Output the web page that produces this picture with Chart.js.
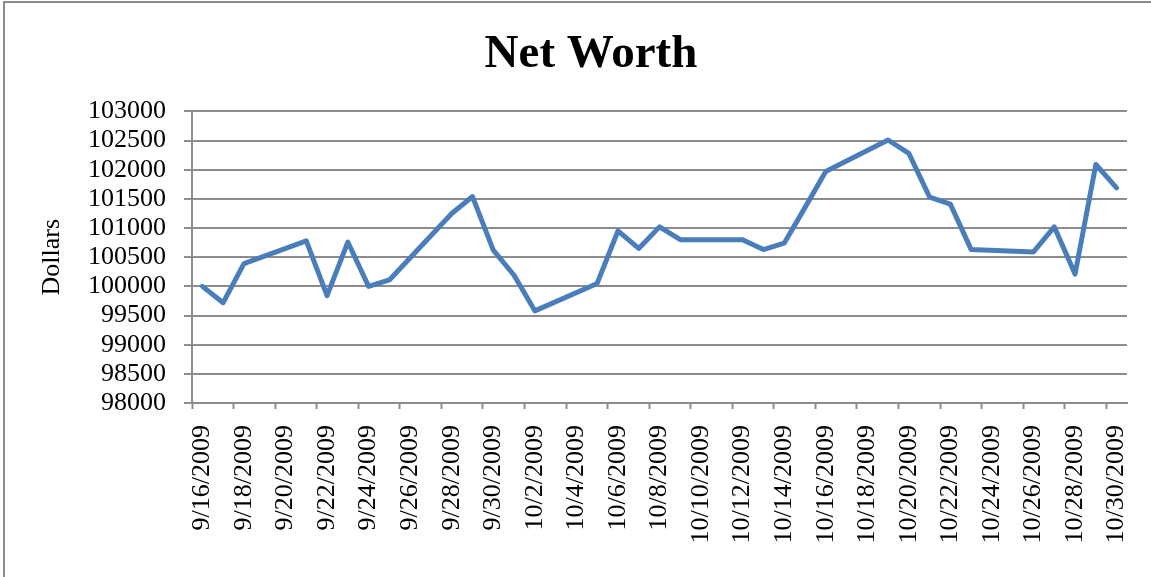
<!DOCTYPE html>
<html>
<head>
<meta charset="utf-8">
<title>Net Worth</title>
<script src="https://cdn.jsdelivr.net/npm/chart.js@4/dist/chart.umd.min.js"></script>
<style>
    body { margin: 0; overflow: hidden; background: #fff; }
    #wrap { position: relative; width: 1151px; height: 577px; overflow: hidden; }
    #frame {
        position: absolute; left: 3px; top: 1px; width: 1300px; height: 700px;
        border-left: 2px solid #8c8c8c; border-top: 2px solid #8c8c8c;
        pointer-events: none;
    }
</style>
</head>
<body>
<div id="wrap">
    <!-- the original chart frame is wider than the picture, so the canvas runs past the right edge -->
    <canvas id="netWorthChart" width="1182" height="577"></canvas>
    <div id="frame"></div>
</div>
<script>
// trading days and net worth values
const dates = [
    '9/16/2009', '9/17/2009', '9/18/2009', '9/21/2009', '9/22/2009', '9/23/2009', '9/24/2009', '9/25/2009',
    '9/28/2009', '9/29/2009', '9/30/2009', '10/1/2009', '10/2/2009',
    '10/5/2009', '10/6/2009', '10/7/2009', '10/8/2009', '10/9/2009',
    '10/12/2009', '10/13/2009', '10/14/2009', '10/15/2009', '10/16/2009',
    '10/19/2009', '10/20/2009', '10/21/2009', '10/22/2009', '10/23/2009',
    '10/26/2009', '10/27/2009', '10/28/2009', '10/29/2009', '10/30/2009'
];
const netWorth = [
    100000, 99720, 100390, 100780, 99840, 100760, 100000, 100110,
    101250, 101540, 100620, 100190, 99580,
    100050, 100950, 100650, 101020, 100800,
    100800, 100630, 100740, 101350, 101970,
    102510, 102280, 101530, 101410, 100630,
    100590, 101020, 100210, 102090, 101690
];
const tickLabels = [
    '9/16/2009', '9/18/2009', '9/20/2009', '9/22/2009', '9/24/2009', '9/26/2009', '9/28/2009', '9/30/2009',
    '10/2/2009', '10/4/2009', '10/6/2009', '10/8/2009', '10/10/2009', '10/12/2009', '10/14/2009', '10/16/2009',
    '10/18/2009', '10/20/2009', '10/22/2009', '10/24/2009', '10/26/2009', '10/28/2009', '10/30/2009'
];
const yMin = 98000;
const yMax = 103000;
const yStep = 500;

const firstDay = Date.parse(dates[0]);
const dayIndex = d => Math.round((Date.parse(d) - firstDay) / 86400000);
const lastDay = dayIndex(tickLabels[tickLabels.length - 1]);

const points = dates.map((d, i) => ({x: dayIndex(d), y: netWorth[i]}));

const serif = 'Liberation Serif, Times New Roman, serif';
const gridColor = '#8c8c8c';

new Chart(document.getElementById('netWorthChart'), {
    type: 'line',
    data: {
        datasets: [{
            label: 'Net Worth',
            data: points,
            borderColor: '#4a7ebb',
            borderWidth: 5,
            borderJoinStyle: 'round',
            borderCapStyle: 'round',
            pointRadius: 0,
            tension: 0,
            fill: false
        }]
    },
    options: {
        responsive: false,
        animation: false,
        layout: {
            padding: 0
        },
        plugins: {
            legend: {display: false},
            tooltip: {enabled: false},
            title: {
                display: true,
                text: 'Net Worth',
                color: '#000',
                font: {family: serif, size: 47, weight: 'bold', lineHeight: 1.2},
                padding: {top: 27, bottom: 28}
            }
        },
        scales: {
            x: {
                type: 'linear',
                min: -0.5,
                max: lastDay + 0.5,
                afterBuildTicks: axis => {
                    axis.ticks = tickLabels.map(l => ({value: dayIndex(l) - 0.5}));
                },
                afterFit: axis => {
                    axis.height = 174;
                },
                grid: {
                    drawOnChartArea: false,
                    drawTicks: true,
                    tickLength: 6,
                    tickColor: gridColor,
                    tickWidth: 2
                },
                border: {color: gridColor, width: 2},
                ticks: {
                    autoSkip: false,
                    minRotation: 90,
                    maxRotation: 90,
                    labelOffset: 10.4,
                    padding: 16,
                    color: '#000',
                    font: {family: serif, size: 26},
                    callback: (value, index) => tickLabels[index]
                }
            },
            y: {
                min: yMin,
                max: yMax,
                afterFit: axis => {
                    axis.width = 192;
                },
                grid: {
                    color: gridColor,
                    lineWidth: 2,
                    tickLength: 8
                },
                border: {color: gridColor, width: 2},
                ticks: {
                    stepSize: yStep,
                    autoSkip: false,
                    padding: 18,
                    color: '#000',
                    font: {family: serif, size: 26},
                    callback: value => String(value)
                },
                title: {
                    display: true,
                    text: 'Dollars',
                    color: '#000',
                    font: {family: serif, size: 26, lineHeight: 1.2},
                    padding: {top: 37, bottom: 0}
                }
            },
            // empty margin on the right, so the title stays centred on the full frame
            spacer: {
                position: 'right',
                min: yMin,
                max: yMax,
                grid: {display: false},
                border: {display: false},
                ticks: {display: false},
                afterFit: axis => {
                    axis.width = 55;
                }
            }
        }
    }
});
</script>
</body>
</html>
